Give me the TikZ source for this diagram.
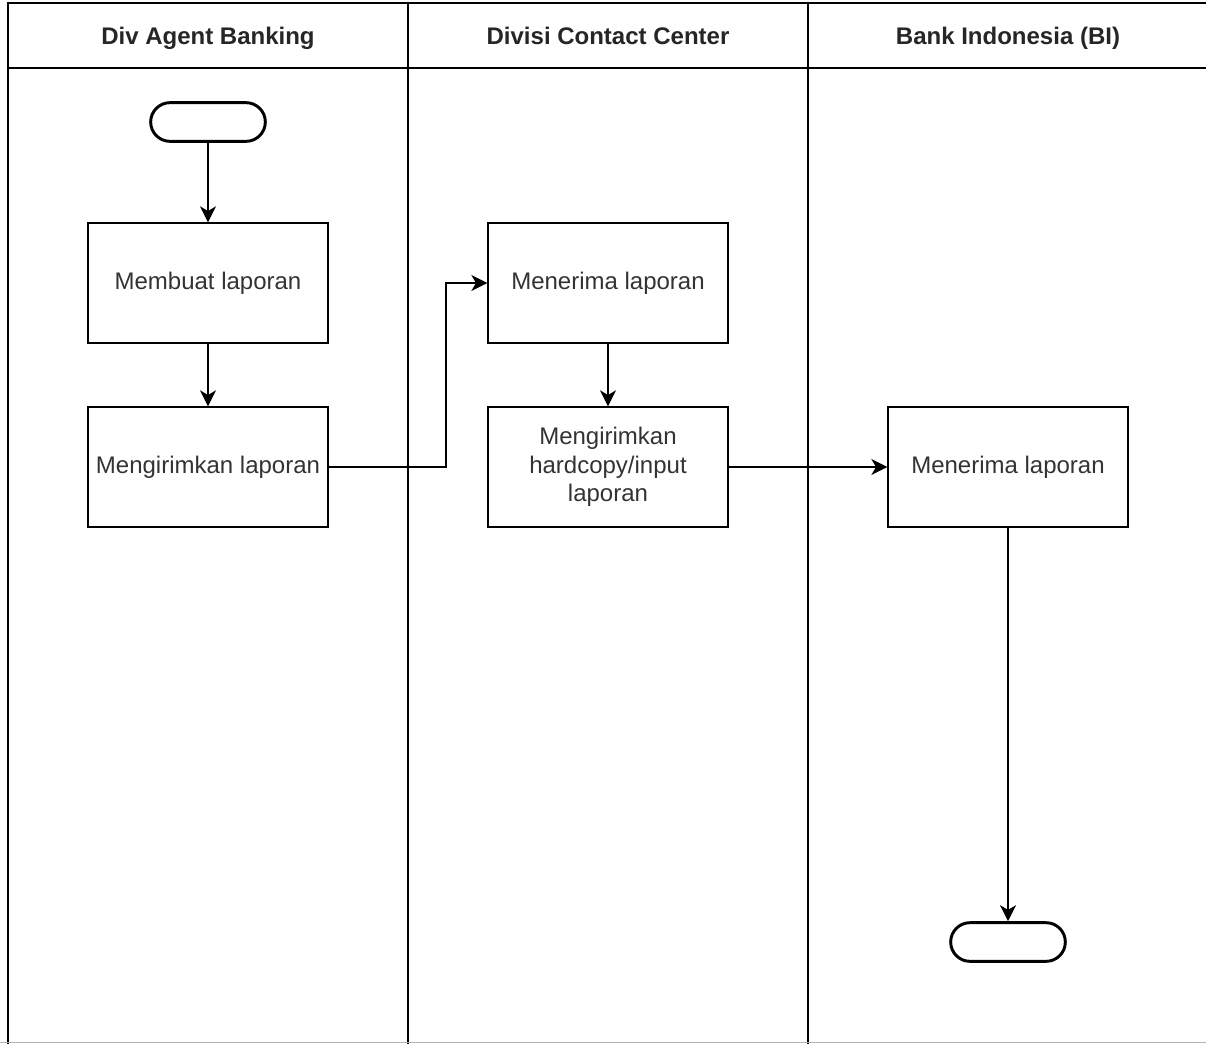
\documentclass[tikz,border=0pt]{standalone}
\usepackage{fontspec}
\setmainfont{Liberation Sans}
\usetikzlibrary{arrows.meta,shapes.misc}
\begin{document}
\begin{tikzpicture}[x=0.75pt,y=-0.75pt,
  lane/.style={line width=1.6pt,draw=black},
  procbox/.style={draw=black,line width=1pt,minimum width=180pt,minimum height=90pt,inner sep=0pt,align=center,font=\fontsize{18pt}{21.5pt}\selectfont,text=black!80},
  term/.style={draw=black,line width=2.2pt,rounded rectangle,minimum width=86pt,minimum height=29pt,inner sep=0pt},
  hdr/.style={font=\bfseries\fontsize{18pt}{21.5pt}\selectfont,text=black!85,text height=13pt,text depth=4pt,inner sep=0pt},
  flow/.style={line width=1pt,-{Stealth[length=12pt,width=12pt,inset=3.5pt]}}
]
\useasboundingbox (0,0) rectangle (1206,1043);
\fill[white] (0,0) rectangle (1206,1043);
% pool
\draw[lane] (1210,3) -- (8,3) -- (8,1050);
\draw[lane] (8,68) -- (1210,68);
\draw[lane] (408,3) -- (408,1050);
\draw[lane] (808,3) -- (808,1050);
\draw[black!30,line width=1pt] (0,1042.5) -- (1206,1042.5);
% headers
\node[hdr] (h1) at (208,38) {Div Agent Banking};
\node[hdr] (h2) at (608,38) {Divisi Contact Center};
\node[hdr] (h3) at (1008,38) {Bank Indonesia (BI)};
% nodes
\node[term] (start) at (208,122) {};
\node[procbox] (b1) at (208,283) {Membuat laporan};
\node[procbox] (b2) at (208,467) {Mengirimkan laporan};
\node[procbox] (b3) at (608,283) {Menerima laporan};
\node[procbox] (b4) at (608,467) {Mengirimkan\\hardcopy/input\\laporan};
\node[procbox] (b5) at (1008,467) {Menerima laporan};
\node[term] (end) at (1008,942) {};
% connectors
\draw[flow] (start.south) -- (b1.north);
\draw[flow] (b1.south) -- (b2.north);
\draw[flow] (b2.east) -- (446,467) |- (b3.west);
\draw[flow] (b3.south) -- (b4.north);
\draw[flow] (b4.east) -- (b5.west);
\draw[flow] (b5.south) -- (end.north);
\end{tikzpicture}
\end{document}
